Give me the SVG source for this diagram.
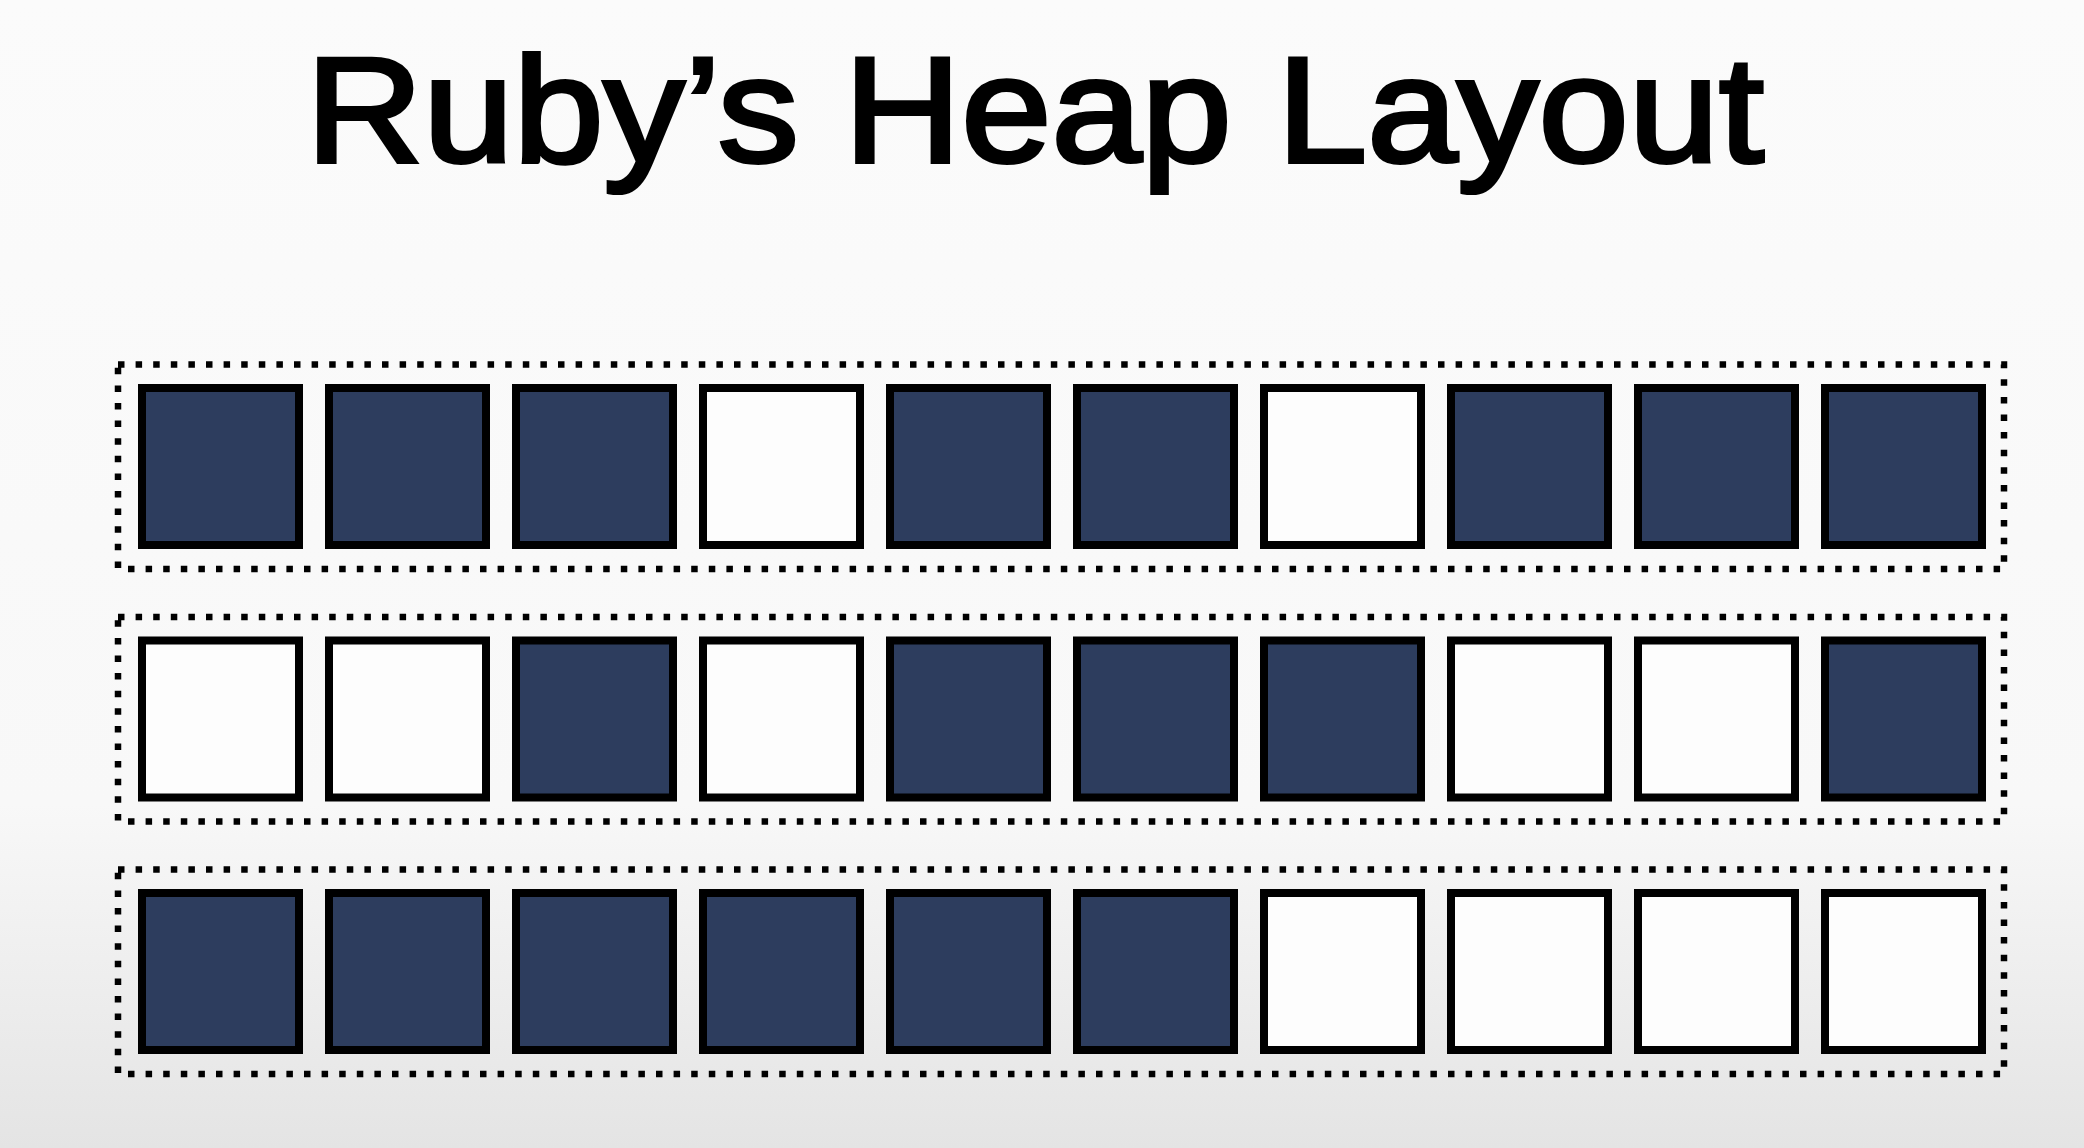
<svg xmlns="http://www.w3.org/2000/svg" width="2084" height="1148" viewBox="0 0 2084 1148">
<defs>
<linearGradient id="bg" x1="0" y1="0" x2="0" y2="1">
<stop offset="0" stop-color="#fbfbfb"/>
<stop offset="0.7" stop-color="#f8f8f8"/>
<stop offset="1" stop-color="#e4e4e4"/>
</linearGradient>
<style>
.frame{fill:none;stroke:#000;stroke-width:6.5;stroke-dasharray:6.5 11.1}
.f{fill:#2d3d5e;stroke:#000;stroke-width:8}
.w{fill:#fdfdfd;stroke:#000;stroke-width:8}
.title{font-family:"Liberation Sans",Arial,sans-serif;font-size:150px;fill:#000;stroke:#000;stroke-width:4;stroke-linejoin:miter}
</style>
</defs>
<rect width="2084" height="1148" fill="url(#bg)"/>
<text class="title" x="306" y="161.5" textLength="1458" lengthAdjust="spacingAndGlyphs">Ruby’s Heap Layout</text>
<g id="row1">
<rect class="frame" x="118" y="364.5" width="1886" height="204.5"/>
<rect id="r1c1" class="f" x="142" y="388" width="157" height="157"/>
<rect id="r1c2" class="f" x="329" y="388" width="157" height="157"/>
<rect id="r1c3" class="f" x="516" y="388" width="157" height="157"/>
<rect id="r1c4" class="w" x="703" y="388" width="157" height="157"/>
<rect id="r1c5" class="f" x="890" y="388" width="157" height="157"/>
<rect id="r1c6" class="f" x="1077" y="388" width="157" height="157"/>
<rect id="r1c7" class="w" x="1264" y="388" width="157" height="157"/>
<rect id="r1c8" class="f" x="1451" y="388" width="157" height="157"/>
<rect id="r1c9" class="f" x="1638" y="388" width="157" height="157"/>
<rect id="r1c10" class="f" x="1825" y="388" width="157" height="157"/>
</g>
<g id="row2" transform="translate(0,252.5)">
<rect class="frame" x="118" y="364.5" width="1886" height="204.5"/>
<rect id="r2c1" class="w" x="142" y="388" width="157" height="157"/>
<rect id="r2c2" class="w" x="329" y="388" width="157" height="157"/>
<rect id="r2c3" class="f" x="516" y="388" width="157" height="157"/>
<rect id="r2c4" class="w" x="703" y="388" width="157" height="157"/>
<rect id="r2c5" class="f" x="890" y="388" width="157" height="157"/>
<rect id="r2c6" class="f" x="1077" y="388" width="157" height="157"/>
<rect id="r2c7" class="f" x="1264" y="388" width="157" height="157"/>
<rect id="r2c8" class="w" x="1451" y="388" width="157" height="157"/>
<rect id="r2c9" class="w" x="1638" y="388" width="157" height="157"/>
<rect id="r2c10" class="f" x="1825" y="388" width="157" height="157"/>
</g>
<g id="row3" transform="translate(0,505)">
<rect class="frame" x="118" y="364.5" width="1886" height="204.5"/>
<rect id="r3c1" class="f" x="142" y="388" width="157" height="157"/>
<rect id="r3c2" class="f" x="329" y="388" width="157" height="157"/>
<rect id="r3c3" class="f" x="516" y="388" width="157" height="157"/>
<rect id="r3c4" class="f" x="703" y="388" width="157" height="157"/>
<rect id="r3c5" class="f" x="890" y="388" width="157" height="157"/>
<rect id="r3c6" class="f" x="1077" y="388" width="157" height="157"/>
<rect id="r3c7" class="w" x="1264" y="388" width="157" height="157"/>
<rect id="r3c8" class="w" x="1451" y="388" width="157" height="157"/>
<rect id="r3c9" class="w" x="1638" y="388" width="157" height="157"/>
<rect id="r3c10" class="w" x="1825" y="388" width="157" height="157"/>
</g>
<g id="connectors"/>
</svg>
